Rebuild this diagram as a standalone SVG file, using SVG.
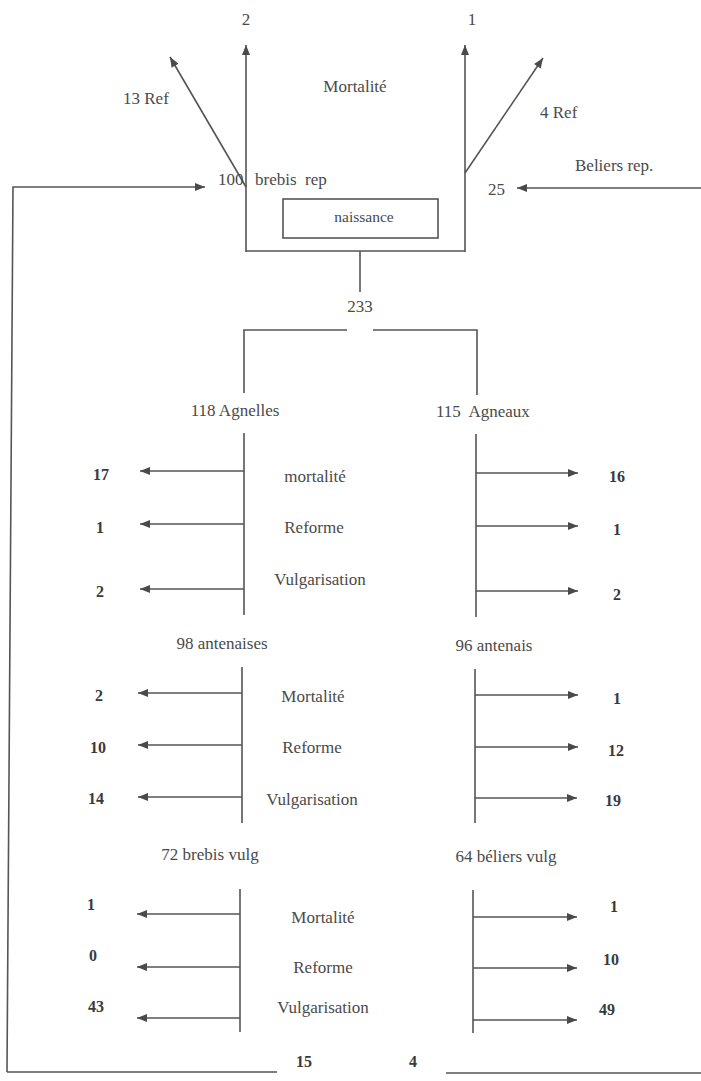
<svg xmlns="http://www.w3.org/2000/svg" width="701" height="1081" viewBox="0 0 701 1081">
<style>
  text { font-family: "Liberation Serif", "Times New Roman", serif; font-size: 17px; fill: #4a4a4a; }
  .b { font-weight: bold; fill: #3a3a3a; font-size: 16px; }
  .m { text-anchor: middle; }
  .ln { stroke: #555; stroke-width: 1.6; fill: none; }
  .ar { stroke: #555; stroke-width: 1.6; fill: none; marker-end: url(#ah); }
</style>
<defs>
  <marker id="ah" viewBox="0 0 10 8" refX="10" refY="4" markerWidth="11" markerHeight="8" markerUnits="userSpaceOnUse" orient="auto">
    <path d="M0,0 L10,4 L0,8 z" fill="#4a4a4a"/>
  </marker>
</defs>
<rect width="701" height="1081" fill="#fff"/>

<g id="connectors">
  <line class="ar" x1="246" y1="252" x2="246" y2="45"/>
  <line class="ar" x1="465" y1="252" x2="465" y2="45"/>
  <line class="ln" x1="246" y1="251" x2="465" y2="251"/>
  <line class="ar" x1="246" y1="187" x2="170" y2="57"/>
  <line class="ar" x1="465" y1="173" x2="543" y2="58"/>
  <line class="ar" x1="701" y1="188" x2="517" y2="188"/>
  <line class="ln" x1="360" y1="251" x2="360" y2="292"/>
  <polyline class="ln" points="244,393 244,330 347,330"/>
  <polyline class="ln" points="373,330 477,330 477,395"/>
  <polyline class="ar" points="7,1072 13,187 205,187"/>
  <line class="ln" x1="7" y1="1072" x2="277" y2="1072"/>
  <line class="ln" x1="446" y1="1073" x2="701" y2="1073"/>
  <line class="ln" x1="244" y1="433" x2="244" y2="615"/>
  <line class="ar" x1="244" y1="471" x2="140" y2="471"/>
  <line class="ar" x1="244" y1="524" x2="140" y2="524"/>
  <line class="ar" x1="244" y1="589" x2="140" y2="589"/>
  <line class="ln" x1="476" y1="434" x2="476" y2="617"/>
  <line class="ar" x1="476" y1="473" x2="578" y2="473"/>
  <line class="ar" x1="476" y1="526" x2="578" y2="526"/>
  <line class="ar" x1="476" y1="591" x2="578" y2="591"/>
  <line class="ln" x1="242" y1="667" x2="242" y2="823"/>
  <line class="ar" x1="242" y1="693" x2="138" y2="693"/>
  <line class="ar" x1="242" y1="745" x2="138" y2="745"/>
  <line class="ar" x1="242" y1="797" x2="138" y2="797"/>
  <line class="ln" x1="475" y1="669" x2="475" y2="823"/>
  <line class="ar" x1="475" y1="695" x2="578" y2="695"/>
  <line class="ar" x1="475" y1="747" x2="578" y2="747"/>
  <line class="ar" x1="475" y1="798" x2="577" y2="798"/>
  <line class="ln" x1="240" y1="889" x2="240" y2="1032"/>
  <line class="ar" x1="240" y1="914" x2="137" y2="914"/>
  <line class="ar" x1="240" y1="967" x2="137" y2="967"/>
  <line class="ar" x1="240" y1="1018" x2="137" y2="1018"/>
  <line class="ln" x1="473" y1="890" x2="473" y2="1033"/>
  <line class="ar" x1="473" y1="917" x2="577" y2="917"/>
  <line class="ar" x1="473" y1="968" x2="577" y2="968"/>
  <line class="ar" x1="473" y1="1020" x2="577" y2="1020"/>
</g>

<g id="top">
  <text class="m" x="246" y="25">2</text>
  <text class="m" x="472" y="25">1</text>
  <text class="m" x="355" y="92">Mortalité</text>
  <text x="123" y="104">13 Ref</text>
  <text x="540" y="118">4 Ref</text>
  <text x="218" y="185">100</text>
  <text x="255" y="185" xml:space="preserve">brebis  rep</text>
  <text x="575" y="171">Beliers rep.</text>
  <text x="488" y="195">25</text>
</g>

<g id="naissance">
  <rect x="283" y="199" width="155" height="39" fill="none" stroke="#555" stroke-width="1.6"/>
  <text class="m" x="364" y="222" style="font-size:15.5px">naissance</text>
</g>

<g id="total">
  <text class="m" x="360" y="312">233</text>
</g>

<g id="agnelles">
  <text class="m" x="235" y="416">118 Agnelles</text>
  <text class="m" x="315" y="482">mortalité</text>
  <text class="m" x="314" y="533">Reforme</text>
  <text class="m" x="320" y="585">Vulgarisation</text>
  <text class="b m" x="101" y="480">17</text>
  <text class="b m" x="100" y="533">1</text>
  <text class="b m" x="100" y="597">2</text>
</g>

<g id="agneaux">
  <text x="436" y="417" xml:space="preserve">115  Agneaux</text>
  <text class="b m" x="617" y="482">16</text>
  <text class="b m" x="617" y="535">1</text>
  <text class="b m" x="617" y="600">2</text>
</g>

<g id="antenaises">
  <text class="m" x="222" y="649">98 antenaises</text>
  <text class="m" x="313" y="702">Mortalité</text>
  <text class="m" x="312" y="753">Reforme</text>
  <text class="m" x="312" y="805">Vulgarisation</text>
  <text class="b m" x="99" y="701">2</text>
  <text class="b m" x="98" y="753">10</text>
  <text class="b m" x="96" y="804">14</text>
</g>

<g id="antenais">
  <text class="m" x="494" y="651">96 antenais</text>
  <text class="b m" x="617" y="704">1</text>
  <text class="b m" x="616" y="756">12</text>
  <text class="b m" x="613" y="806">19</text>
</g>

<g id="brebis-vulg">
  <text class="m" x="210" y="860">72 brebis vulg</text>
  <text class="m" x="323" y="923">Mortalité</text>
  <text class="m" x="323" y="973">Reforme</text>
  <text class="m" x="323" y="1013">Vulgarisation</text>
  <text class="b m" x="91" y="910">1</text>
  <text class="b m" x="93" y="961">0</text>
  <text class="b m" x="96" y="1012">43</text>
</g>

<g id="beliers-vulg">
  <text class="m" x="506" y="862">64 béliers vulg</text>
  <text class="b m" x="614" y="912">1</text>
  <text class="b m" x="611" y="965">10</text>
  <text class="b m" x="607" y="1015">49</text>
</g>

<g id="bottom">
  <text class="b m" x="304" y="1067">15</text>
  <text class="b m" x="413" y="1067">4</text>
</g>
</svg>
